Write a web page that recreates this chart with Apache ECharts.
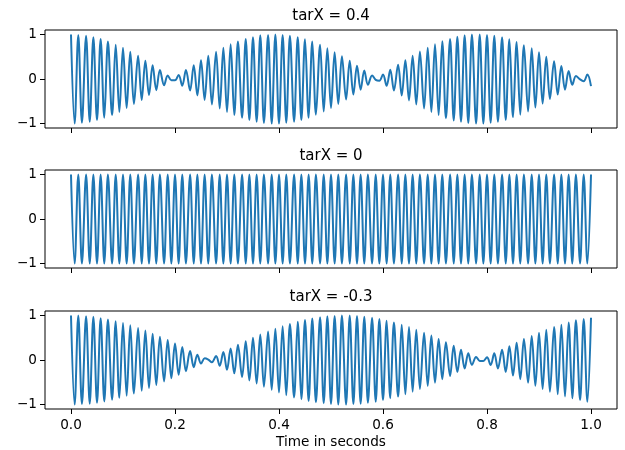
<!DOCTYPE html>
<html>
<head>
<meta charset="utf-8">
<script src="https://cdn.jsdelivr.net/npm/echarts@6/dist/echarts.min.js"></script>
<style>
  html, body { margin: 0; background: #fff; }
  #chart { width: 625px; height: 450px; }
</style>
</head>
<body>
<div id="chart"></div>
<script>
// panel titles and axis ticks
const titles = ['tarX = 0.4', 'tarX = 0', 'tarX = -0.3']
const xTicks = [0, 0.2, 0.4, 0.6, 0.8, 1.0]
const yTicks = [-1, 0, 1]

// times of the wave crests / troughs (s)
const times = [
  0, 0.007, 0.014, 0.021, 0.029, 0.036, 0.043,
  0.05, 0.057, 0.064, 0.071, 0.079, 0.086, 0.093,
  0.1, 0.107, 0.114, 0.121, 0.129, 0.136, 0.143,
  0.15, 0.157, 0.164, 0.171, 0.179, 0.186, 0.193,
  0.2, 0.207, 0.214, 0.221, 0.229, 0.236, 0.243,
  0.25, 0.257, 0.264, 0.271, 0.279, 0.286, 0.293,
  0.3, 0.307, 0.314, 0.321, 0.329, 0.336, 0.343,
  0.35, 0.357, 0.364, 0.371, 0.379, 0.386, 0.393,
  0.4, 0.407, 0.414, 0.421, 0.429, 0.436, 0.443,
  0.45, 0.457, 0.464, 0.471, 0.479, 0.486, 0.493,
  0.5, 0.507, 0.514, 0.521, 0.529, 0.536, 0.543,
  0.55, 0.557, 0.564, 0.571, 0.579, 0.586, 0.593,
  0.6, 0.607, 0.614, 0.621, 0.629, 0.636, 0.643,
  0.65, 0.657, 0.664, 0.671, 0.679, 0.686, 0.693,
  0.7, 0.707, 0.714, 0.721, 0.729, 0.736, 0.743,
  0.75, 0.757, 0.764, 0.771, 0.779, 0.786, 0.793,
  0.8, 0.807, 0.814, 0.821, 0.829, 0.836, 0.843,
  0.85, 0.857, 0.864, 0.871, 0.879, 0.886, 0.893,
  0.9, 0.907, 0.914, 0.921, 0.929, 0.936, 0.943,
  0.95, 0.957, 0.964, 0.971, 0.979, 0.986, 0.993,
  1.0
]

// signal value at each crest / trough, tarX = 0.4
const sigPos04 = [
  1, -1, 0.99, -0.98, 0.97, -0.96, 0.94,
  -0.92, 0.9, -0.87, 0.84, -0.81, 0.77, -0.74,
  0.7, -0.65, 0.61, -0.56, 0.52, -0.47, 0.41,
  -0.36, 0.31, -0.25, 0.2, -0.14, 0.08, -0.03,
  -0.03, 0.09, -0.15, 0.2, -0.26, 0.31, -0.37,
  0.42, -0.47, 0.52, -0.57, 0.61, -0.66, 0.7,
  -0.74, 0.78, -0.81, 0.84, -0.87, 0.9, -0.92,
  0.94, -0.96, 0.98, -0.99, 0.99, -1, 1,
  -1, 0.99, -0.98, 0.97, -0.96, 0.94, -0.92,
  0.89, -0.87, 0.84, -0.8, 0.77, -0.73, 0.69,
  -0.65, 0.6, -0.56, 0.51, -0.46, 0.41, -0.35,
  0.3, -0.24, 0.19, -0.13, 0.08, -0.02, -0.04,
  0.1, -0.15, 0.21, -0.26, 0.32, -0.37, 0.42,
  -0.48, 0.52, -0.57, 0.62, -0.66, 0.7, -0.74,
  0.78, -0.81, 0.85, -0.88, 0.9, -0.93, 0.95,
  -0.96, 0.98, -0.99, 1, -1, 1, -1,
  0.99, -0.98, 0.97, -0.96, 0.94, -0.92, 0.89,
  -0.86, 0.83, -0.8, 0.76, -0.73, 0.69, -0.64,
  0.6, -0.55, 0.5, -0.45, 0.4, -0.35, 0.29,
  -0.24, 0.18, -0.13, 0.07, -0.01, -0.05, 0.1,
  -0.16
]

// tarX = 0
const sigZero = [
  1, -1, 1, -1, 1, -1, 1,
  -1, 1, -1, 1, -1, 1, -1,
  1, -1, 1, -1, 1, -1, 1,
  -1, 1, -1, 1, -1, 1, -1,
  1, -1, 1, -1, 1, -1, 1,
  -1, 1, -1, 1, -1, 1, -1,
  1, -1, 1, -1, 1, -1, 1,
  -1, 1, -1, 1, -1, 1, -1,
  1, -1, 1, -1, 1, -1, 1,
  -1, 1, -1, 1, -1, 1, -1,
  1, -1, 1, -1, 1, -1, 1,
  -1, 1, -1, 1, -1, 1, -1,
  1, -1, 1, -1, 1, -1, 1,
  -1, 1, -1, 1, -1, 1, -1,
  1, -1, 1, -1, 1, -1, 1,
  -1, 1, -1, 1, -1, 1, -1,
  1, -1, 1, -1, 1, -1, 1,
  -1, 1, -1, 1, -1, 1, -1,
  1, -1, 1, -1, 1, -1, 1,
  -1, 1, -1, 1, -1, 1, -1,
  1
]

// tarX = -0.3
const sigNeg03 = [
  1, -1, 1, -0.99, 0.98, -0.98, 0.97,
  -0.96, 0.94, -0.93, 0.91, -0.89, 0.87, -0.85,
  0.83, -0.8, 0.78, -0.75, 0.72, -0.69, 0.66,
  -0.63, 0.59, -0.56, 0.52, -0.48, 0.45, -0.41,
  0.37, -0.33, 0.29, -0.25, 0.2, -0.16, 0.12,
  -0.08, 0.04, 0.01, -0.05, 0.09, -0.13, 0.18,
  -0.22, 0.26, -0.3, 0.34, -0.38, 0.42, -0.46,
  0.5, -0.53, 0.57, -0.6, 0.64, -0.67, 0.7,
  -0.73, 0.76, -0.79, 0.81, -0.84, 0.86, -0.88,
  0.9, -0.92, 0.93, -0.95, 0.96, -0.97, 0.98,
  -0.99, 0.99, -1, 1, -1, 1, -0.99,
  0.99, -0.98, 0.97, -0.96, 0.95, -0.94, 0.92,
  -0.9, 0.88, -0.86, 0.84, -0.82, 0.79, -0.77,
  0.74, -0.71, 0.68, -0.65, 0.61, -0.58, 0.55,
  -0.51, 0.47, -0.43, 0.4, -0.36, 0.32, -0.27,
  0.23, -0.19, 0.15, -0.11, 0.07, -0.02, -0.02,
  0.06, -0.11, 0.15, -0.19, 0.23, -0.27, 0.31,
  -0.35, 0.39, -0.43, 0.47, -0.51, 0.54, -0.58,
  0.61, -0.65, 0.68, -0.71, 0.74, -0.77, 0.79,
  -0.82, 0.84, -0.86, 0.89, -0.9, 0.92, -0.94,
  0.95
]

const signals = [sigPos04, sigZero, sigNeg03]

const FONT = '"DejaVu Sans", sans-serif'
const gridTops = [30, 170, 311]
const gridHeight = 98
const gridLeft = 45
const gridWidth = 572

const chart = echarts.init(document.getElementById('chart'), null, { renderer: 'canvas' })

const grids = gridTops.map(top => ({
  left: gridLeft,
  top: top,
  width: gridWidth,
  height: gridHeight,
  show: true,
  borderColor: '#000',
  borderWidth: 1,
  containLabel: false
}))

const xAxes = gridTops.map((_, i) => ({
  type: 'value',
  gridIndex: i,
  position: 'bottom',
  min: -0.05,
  max: 1.05,
  axisLine: { show: false, onZero: false },
  splitLine: { show: false },
  axisTick: {
    show: true,
    customValues: xTicks,
    length: 5,
    lineStyle: { color: '#000', width: 1 }
  },
  axisLabel: {
    show: i === 2,
    customValues: xTicks,
    formatter: v => v.toFixed(1),
    margin: 9,
    color: '#000',
    fontFamily: FONT,
    fontSize: 13.6
  }
}))

const yAxes = gridTops.map((_, i) => ({
  type: 'value',
  gridIndex: i,
  position: 'left',
  min: -1.1,
  max: 1.1,
  axisLine: { show: false, onZero: false },
  splitLine: { show: false },
  axisTick: {
    show: true,
    customValues: yTicks,
    length: 5,
    lineStyle: { color: '#000', width: 1 }
  },
  axisLabel: {
    customValues: yTicks,
    formatter: v => (v < 0 ? '\u2212' + (-v) : String(v)),
    margin: 8,
    color: '#000',
    fontFamily: FONT,
    fontSize: 13.6
  }
}))

const series = signals.map((vals, i) => ({
  type: 'line',
  xAxisIndex: i,
  yAxisIndex: i,
  data: times.map((t, k) => [t, vals[k]]),
  showSymbol: false,
  smooth: 0.36,
  lineStyle: { color: '#1f77b4', width: 2 },
  itemStyle: { color: '#1f77b4' }
}))

const titleTexts = titles.map((text, i) => ({
  type: 'text',
  x: gridLeft + gridWidth / 2,
  y: gridTops[i] - 14,
  style: {
    text: text,
    fill: '#000',
    font: '15px ' + FONT,
    textAlign: 'center',
    textVerticalAlign: 'middle'
  }
}))

chart.setOption({
  animation: false,
  backgroundColor: '#fff',
  grid: grids,
  xAxis: xAxes,
  yAxis: yAxes,
  series: series,
  graphic: titleTexts.concat([{
    type: 'text',
    x: gridLeft + gridWidth / 2,
    y: 442,
    style: {
      text: 'Time in seconds',
      fill: '#000',
      font: '13.6px ' + FONT,
      textAlign: 'center',
      textVerticalAlign: 'middle'
    }
  }])
})
</script>
</body>
</html>
